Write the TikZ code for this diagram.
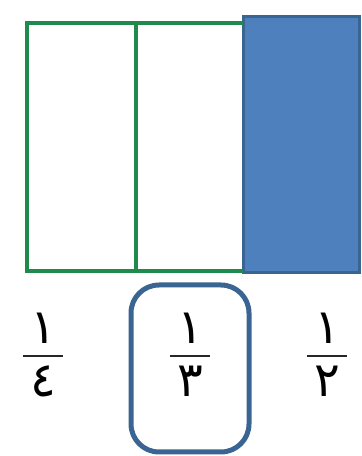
\documentclass[tikz,border=0pt]{standalone}
\usepackage{fontspec}
\newfontfamily\arabicfont[Script=Arabic]{DejaVu Sans}
\TeXXeTstate=1
\definecolor{bargreen}{HTML}{1F8A4C}
\definecolor{partblue}{HTML}{4F80BE}
\definecolor{edgeblue}{HTML}{3A6592}
\tikzset{digit/.style={inner sep=0pt,font=\arabicfont\fontsize{48}{52}\selectfont},
  fracbar/.style={line width=2.5pt,black!85},
  part/.style={draw=bargreen,line width=3.5pt}}

\begin{document}
\begin{tikzpicture}[x=1pt,y=1pt]
\useasboundingbox (0,0) rectangle (362,456);
% the whole strip
\fill[partblue,draw=edgeblue,line width=3pt] (243,183) rectangle (359,439);
\draw[part] (243,433) -- (27,433) -- (27,185) -- (243,185);
\draw[part] (136,433) -- (136,185);
% fractions under it
\foreach \x/\den/\nm in {43/٤/four,190/٣/three,327/٢/two}{
  \coordinate (bl-\nm) at (\x-20,100);
  \coordinate (br-\nm) at (\x+20,100);
  \draw[fracbar] (bl-\nm) -- (br-\nm);
  \node[digit,anchor=south] (num-\nm) at (\x,112) {\beginR ١\endR};
  \node[digit,anchor=north] (den-\nm) at (\x,90) {\beginR \den\endR};
}
% the chosen one
\draw[edgeblue,line width=5pt,rounded corners=28pt] (131,171) rectangle (249,4);
\end{tikzpicture}
\end{document}
